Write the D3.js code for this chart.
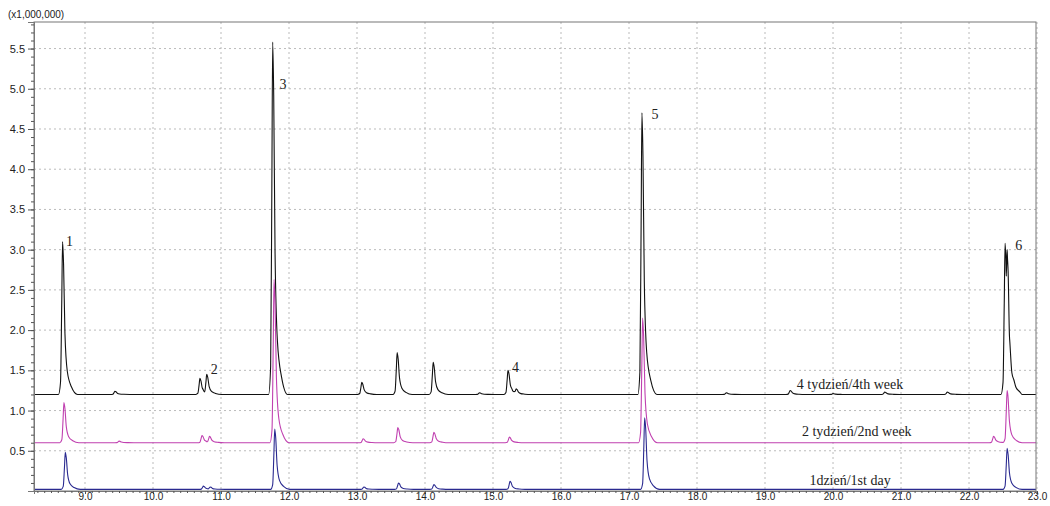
<!DOCTYPE html>
<html><head><meta charset="utf-8">
<script src="https://cdn.jsdelivr.net/npm/d3@7"></script>
<style>body{margin:0;background:#fff}</style></head>
<body><svg id="c" width="1050" height="506"></svg>
<script>
// peak tables: [retention time (min), apex intensity (x1,000,000)]
const baseline4 = 1.2, baseline2 = 0.6, baseline1 = 0.02;
const peaks4 = [[8.67,3.1],[9.44,1.24],[10.69,1.4],[10.79,1.45],[11.76,5.58],[13.07,1.35],[13.59,1.72],[14.12,1.6],[14.8,1.22],[15.22,1.5],[15.34,1.27],[17.19,4.7],[18.43,1.22],[19.37,1.25],[20.0,1.21],[20.76,1.23],[21.68,1.23],[22.53,3.08],[22.56,3.0]];
const peaks2 = [[8.69,1.1],[9.5,0.62],[10.72,0.69],[10.83,0.68],[11.78,2.63],[13.09,0.65],[13.6,0.79],[14.13,0.73],[15.24,0.67],[17.2,2.15],[22.36,0.68],[22.56,1.25]];
const peaks1 = [[8.71,0.48],[10.74,0.06],[10.84,0.05],[11.79,0.77],[13.1,0.05],[13.61,0.1],[14.13,0.08],[15.25,0.12],[17.23,0.91],[22.56,0.53]];
const peakLabels = [["1",8.72,3.05],["2",10.85,1.45],["3",11.86,5.0],["4",15.28,1.48],["5",17.33,4.62],["6",22.68,3.0]];
const seriesNames = ["4 tydzień/4th week","2 tydzień/2nd week","1dzień/1st day"];
const seriesLabelPos = [[20.25,1.27],[20.35,0.68],[20.25,0.07]];
const colors = ["#111","#c040b0","#2a2a90"];
const xTicks = d3.range(9,23.01,1), yTicks = [0.5,1,1.5,2,2.5,3,3.5,4,4.5,5,5.5];

const svg = d3.select("#c");
const L=34,R=1036,T=22,B=491;
const x = d3.scaleLinear().domain([8.25,22.985]).range([L,R]);
const y = d3.scaleLinear().domain([0,5.83]).range([B,T]);

function trace(peaks, base){
  const pts=[[8.25,base]];
  peaks.forEach(([t,h])=>{
    const a=h-base;
    pts.push([t-0.06,base],[t-0.03,base+0.08*a],[t-0.012,base+0.6*a],[t,h],[t+0.015,base+0.85*a],[t+0.035,base+0.4*a],[t+0.07,base+0.15*a],[t+0.13,base+0.05*a],[t+0.22,base]);
  });
  pts.push([22.985,base]);
  return pts;
}
function envelope(peaks, base){
  const singles = peaks.map(p=>trace([p],base));
  const ts = Array.from(new Set(singles.flat().map(p=>+p[0].toFixed(4)))).sort((a,b)=>a-b);
  return ts.map(t=>{
    let v=base;
    singles.forEach(s=>{
      for(let i=1;i<s.length;i++){ if(t>=s[i-1][0]&&t<=s[i][0]){const f=(t-s[i-1][0])/((s[i][0]-s[i-1][0])||1); const val=s[i-1][1]+f*(s[i][1]-s[i-1][1]); v=Math.max(v,val); break;} }
    });
    return [t,v];
  });
}

const g = svg.append("g");
xTicks.forEach(t=>g.append("line").attr("x1",x(t)).attr("x2",x(t)).attr("y1",T).attr("y2",B).attr("stroke","#bbb").attr("stroke-dasharray","2,3"));
yTicks.forEach(t=>g.append("line").attr("x1",L).attr("x2",R).attr("y1",y(t)).attr("y2",y(t)).attr("stroke","#bbb").attr("stroke-dasharray","2,3"));

const line = d3.line().x(d=>x(d[0])).y(d=>y(d[1])).curve(d3.curveMonotoneX);
[[peaks4,baseline4],[peaks2,baseline2],[peaks1,baseline1]].forEach(([p,b],i)=>{
  svg.append("path").attr("d",line(envelope(p,b))).attr("fill","none").attr("stroke",colors[i]).attr("stroke-width",1.1);
});

svg.append("rect").attr("x",L).attr("y",T).attr("width",R-L).attr("height",B-T).attr("fill","none").attr("stroke","#777");

svg.append("g").attr("transform",`translate(${L},0)`).call(d3.axisLeft(y).tickValues(yTicks).tickFormat(d3.format(".1f")).tickSize(6));
svg.append("g").attr("transform",`translate(${L},0)`).call(d3.axisLeft(y).tickValues(d3.range(0.1,5.81,0.1)).tickFormat("").tickSize(3));
const xa = svg.append("g").attr("transform",`translate(0,${B})`).call(d3.axisBottom(x).tickValues(xTicks).tickFormat(d3.format(".1f")).tickSize(3).tickPadding(0));
svg.append("g").attr("transform",`translate(0,${B})`).call(d3.axisBottom(x).tickValues(d3.range(8.3,22.99,0.1)).tickFormat("").tickSize(2));
svg.selectAll(".domain").attr("stroke","#777");
svg.selectAll(".tick line").attr("stroke","#555");
svg.selectAll(".tick text").attr("font-family","Liberation Sans, Arial").attr("font-size",11).attr("fill","#222");
xa.selectAll("text").attr("font-size",10).attr("dy","0.6em");
svg.append("text").attr("x",8).attr("y",18).text("(x1,000,000)").attr("font-family","Liberation Sans, Arial").attr("font-size",10).attr("fill","#222");

peakLabels.forEach(([s,t,v])=>svg.append("text").attr("x",x(t)).attr("y",y(v)).text(s).attr("font-family","Liberation Serif, serif").attr("font-size",14).attr("fill","#222"));
seriesNames.forEach((s,i)=>svg.append("text").attr("x",x(seriesLabelPos[i][0])).attr("y",y(seriesLabelPos[i][1])).attr("text-anchor","middle").text(s).attr("font-family","Liberation Serif, serif").attr("font-size",14).attr("fill","#222"));
</script></body></html>
